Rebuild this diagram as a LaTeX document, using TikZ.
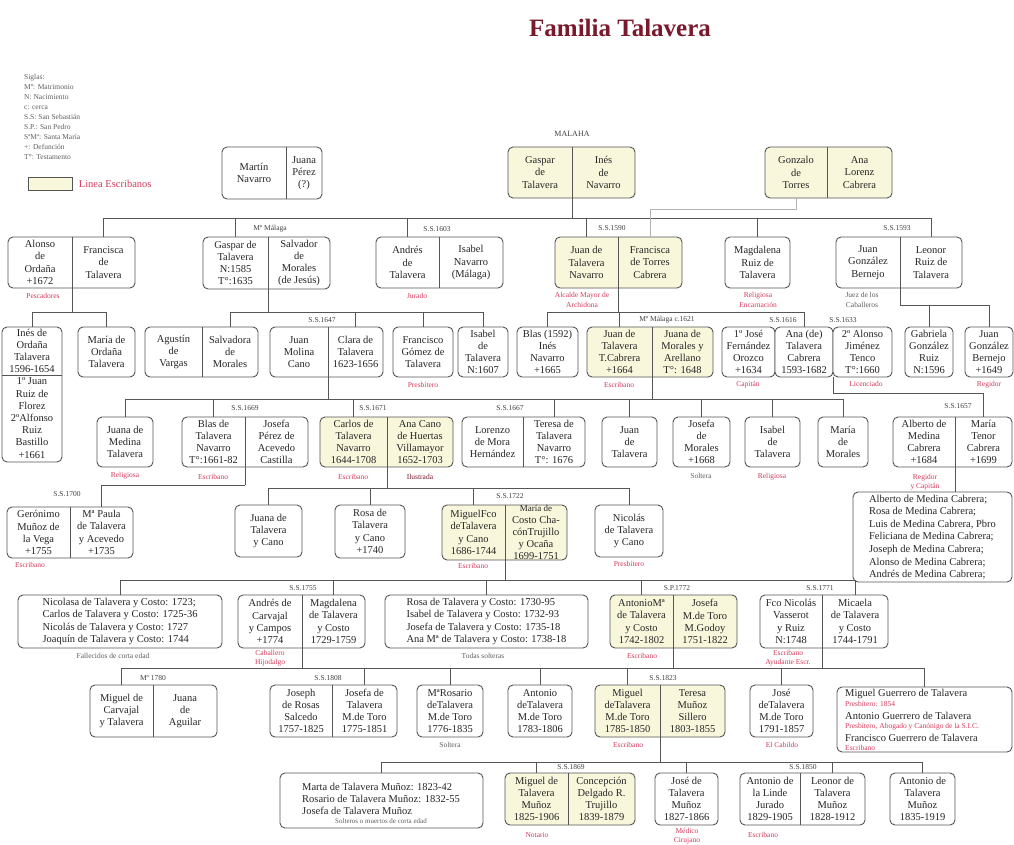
\documentclass[tikz,border=0pt]{standalone}
\usepackage{fontspec}
\setmainfont{Liberation Serif}
\usetikzlibrary{calc}
\definecolor{cream}{RGB}{248,247,220}
\definecolor{bord}{RGB}{85,85,85}
\definecolor{lab}{RGB}{212,58,92}
\definecolor{ttl}{RGB}{122,24,44}
\definecolor{gtx}{RGB}{95,95,95}
\tikzset{
 box/.style={draw=bord, line width=0.9pt, rounded corners=5pt, inner sep=0.5pt, outer sep=0pt, align=center, font=\fontsize{10.5}{12.2}\selectfont, text=black!85},
 txt/.style={inner sep=0pt, align=center, font=\fontsize{10.5}{12.2}\selectfont, text=black!85},
 conn/.style={draw=bord, line width=0.9pt},
 divl/.style={draw=bord, line width=0.9pt},
 lbl/.style={text=lab, font=\fontsize{7.5}{9.5}\selectfont, inner sep=0pt, align=center},
 glbl/.style={text=gtx, font=\fontsize{7.5}{9.5}\selectfont, inner sep=0pt, align=center},
 dlbl/.style={text=black!75, font=\fontsize{7.5}{9}\selectfont, inner sep=0pt},
 ltxt/.style={inner sep=0pt, align=left, font=\fontsize{10.5}{12.3}\selectfont, text=black!85},
}
% couple box: name, x1, xdiv, x2, y1, y2, fill, left text, right text
\newcommand\cpl[9]{%
 \pgfmathsetmacro\cpw{#4-#2}\pgfmathsetmacro\cph{#6-#5}%
 \pgfmathsetmacro\cplx{(#2+#3)/2}\pgfmathsetmacro\cprx{(#3+#4)/2}\pgfmathsetmacro\cpmy{(#5+#6)/2}%
 \node[box, fill=#7, minimum width=\cpw pt, minimum height=\cph pt, anchor=north west] (#1) at (#2,#5) {};
 \draw[divl] (#3,#5) -- (#3,#6);
 \coordinate (#1-d) at (#3,#6);
 \node[txt] (#1-L) at (\cplx,\cpmy) {#8};
 \node[txt] (#1-R) at (\cprx,\cpmy) {#9};
}
% single box: name, x1, x2, y1, y2, fill, text
\newcommand\sgl[7]{%
 \pgfmathsetmacro\cpw{#3-#2}\pgfmathsetmacro\cph{#5-#4}%
 \node[box, fill=#6, minimum width=\cpw pt, minimum height=\cph pt, anchor=north west] (#1) at (#2,#4) {#7};
}
\newcommand\dropto[3]{\draw[conn] (#1 |- 0,#2) -- (#1 |- #3.north);}
\newcommand\downto[2]{\draw[conn] (#1) -- (#1 |- 0,#2);}
\newcommand\hl[3]{\draw[conn] (#1 |- 0,#3) -- (#2 |- 0,#3);}

\begin{document}
\begin{tikzpicture}[x=1pt,y=-1pt]
\fill[white] (0,0) rectangle (1014,845);
\useasboundingbox (0,0) rectangle (1014,845);

% title
\node[font=\fontsize{25}{30}\selectfont\bfseries, text=ttl] (title) at (620,28) {Familia Talavera};

% legend
\node[anchor=north west, align=left, font=\fontsize{7.5}{10}\selectfont, text=gtx, inner sep=0pt] (legend) at (24,74)
 {Siglas:\\Mº: Matrimonio\\N: Nacimiento\\c: cerca\\S.S: San Sebastián\\S.P.: San Pedro\\SªMª: Santa María\\+: Defunción\\T°: Testamento};
\node[draw=bord, fill=cream, line width=0.7pt, minimum width=44pt, minimum height=13pt, inner sep=0pt, anchor=north west] (lgbox) at (28,177) {};
\node[anchor=west, text=lab, font=\fontsize{10.5}{12}\selectfont, inner sep=0pt] (lgtxt) at ([xshift=6pt]lgbox.east) {Linea Escribanos};

% ---------- row 0
\node[dlbl, font=\fontsize{8}{9}\selectfont] (malaha) at (572,134) {MALAHA};
\cpl{martin}{222}{286}{322}{147}{199}{white}{Martín\\Navarro}{Juana\\Pérez\\(?)}
\cpl{gasparI}{508}{572}{635}{147}{198}{cream}{Gaspar\\de\\Talavera}{Inés\\de\\Navarro}
\cpl{gonzalo}{765}{827}{892}{147}{198}{cream}{Gonzalo\\de\\Torres}{Ana\\Lorenz\\Cabrera}

% ---------- row 1
\cpl{alonso}{8}{72}{135}{237}{288}{white}{Alonso\\de\\Ordaña\\+1672}{Francisca\\de\\Talavera}
\cpl{gaspar2}{203}{268}{330}{237}{289}{white}{Gaspar de\\Talavera\\N:1585\\T°:1635}{Salvador\\de\\Morales\\(de Jesús)}
\cpl{andres}{376}{439}{503}{237}{288}{white}{Andrés\\de\\Talavera}{Isabel\\Navarro\\(Málaga)}
\cpl{juan}{555}{618}{682}{237}{288}{cream}{Juan de\\Talavera\\Navarro}{Francisca\\de Torres\\Cabrera}
\sgl{magdalena}{725}{790}{237}{288}{white}{Magdalena\\Ruiz de\\Talavera}
\cpl{juangon}{836}{900}{962}{237}{288}{white}{Juan\\González\\Bernejo}{Leonor\\Ruiz de\\Talavera}

\downto{gasparI-d}{218}
\hl{alonso-R}{juangon-R}{218}
\dropto{alonso-R}{218}{alonso}
\dropto{gaspar2-L}{218}{gaspar2}
\dropto{andres-L}{218}{andres}
\dropto{juan-L}{218}{juan}
\dropto{magdalena}{218}{magdalena}
\dropto{juangon-R}{218}{juangon}
\draw[conn, draw=black!30] (juan-R |- juan.north) -- (juan-R |- 0,209) -| (gonzalo-L |- gonzalo.south);

\node[dlbl] (d1) at (270,229) {Mº Málaga};
\node[dlbl] (d2) at (437,229) {S.S.1603};
\node[dlbl] (d3) at (612,228) {S.S.1590};
\node[dlbl] (d4) at (897,228) {S.S.1593};

\node[lbl] (l1) at (43,296) {Pescadores};
\node[lbl] (l2) at (417,296) {Jurado};
\node[lbl] (l3) at (582,300) {Alcalde Mayor de\\Archidona};
\node[lbl] (l4) at (758,300) {Religiosa\\Encarnación};
\node[glbl] (l5) at (862,300) {Juez de los\\Caballeros};

% ---------- row 2
\node[box, fill=white, minimum width=60pt, minimum height=135pt, anchor=north west] (ines) at (2,327) {};
\draw[divl] (2,375) -- (62,375);
\node[txt] (ines-a) at (32,351) {Inés de\\Ordaña\\Talavera\\1596-1654};
\node[txt] (ines-b) at (32,418) {1º Juan\\Ruiz de\\Florez\\2ºAlfonso\\Ruiz\\Bastillo\\+1661};
\sgl{maria}{78}{135}{327}{377}{white}{María de\\Ordaña\\Talavera}
\cpl{agustin}{145}{202}{258}{327}{377}{white}{Agustín\\de\\Vargas}{Salvadora\\de\\Morales}
\cpl{juanm}{270}{328}{383}{327}{377}{white}{Juan\\Molina\\Cano}{Clara de\\Talavera\\1623-1656}
\sgl{francisco}{393}{453}{327}{377}{white}{Francisco\\Gómez de\\Talavera}
\sgl{isabel}{458}{508}{327}{377}{white}{Isabel\\de\\Talavera\\N:1607}
\sgl{blasI}{517}{578}{327}{377}{white}{Blas (1592)\\Inés\\Navarro\\+1665}
\cpl{juanT}{587}{652}{713}{327}{377}{cream}{Juan de\\Talavera\\T.Cabrera\\+1664}{Juana de\\Morales y\\Arellano\\T°: 1648}
\sgl{jose1}{722}{775}{327}{377}{white}{1º José\\Fernández\\Orozco\\+1634}
\sgl{ana}{775}{833}{327}{377}{white}{Ana (de)\\Talavera\\Cabrera\\1593-1682}
\sgl{alonso2}{833}{892}{327}{377}{white}{2º Alonso\\Jiménez\\Tenco\\T°:1660}
\sgl{gabriela}{905}{953}{327}{377}{white}{Gabriela\\González\\Ruiz\\N:1596}
\sgl{juangb}{965}{1013}{327}{377}{white}{Juan\\González\\Bernejo\\+1649}

\downto{alonso-d}{312}
\hl{ines}{maria}{312}
\dropto{ines}{312}{ines}
\dropto{maria}{312}{maria}
\downto{gaspar2-d}{312}
\hl{agustin-R}{isabel}{312}
\dropto{agustin-R}{312}{agustin}
\dropto{juanm-R}{312}{juanm}
\dropto{francisco}{312}{francisco}
\dropto{isabel}{312}{isabel}
\downto{juan-d}{312}
\hl{blasI}{ana}{312}
\dropto{blasI}{312}{blasI}
\dropto{juanT-L}{312}{juanT}
\dropto{ana}{312}{ana}
\downto{juangon-d}{305}
\hl{juangon-d}{juangb}{305}
\dropto{gabriela}{305}{gabriela}
\dropto{juangb}{305}{juangb}

\node[dlbl] (d5) at (322,320) {S.S.1647};
\node[dlbl] (d6) at (667,320) {Mº Málaga c.1621};
\node[dlbl] (d7) at (783,320) {S.S.1616};
\node[dlbl] (d8) at (843,320) {S.S.1633};

\node[lbl] (l6) at (423,385) {Presbítero};
\node[lbl] (l7) at (619,385) {Escribano};
\node[lbl] (l8) at (748,385) {Capitán};
\node[lbl] (l9) at (866,384) {Licenciado};
\node[lbl] (l10) at (989,385) {Regidor};

% ---------- row 3
\sgl{juanamed}{97}{153}{417}{467}{white}{Juana de\\Medina\\Talavera}
\cpl{blas}{182}{245}{308}{417}{467}{white}{Blas de\\Talavera\\Navarro\\T°:1661-82}{Josefa\\Pérez de\\Acevedo\\Castilla}
\cpl{carlos}{320}{387}{453}{417}{467}{cream}{Carlos de\\Talavera\\Navarro\\1644-1708}{Ana Cano\\de Huertas\\Villamayor\\1652-1703}
\cpl{lorenzo}{462}{523}{585}{417}{467}{white}{Lorenzo\\de Mora\\Hernández}{Teresa de\\Talavera\\Navarro\\T°: 1676}
\sgl{juande}{602}{657}{417}{467}{white}{Juan\\de\\Talavera}
\sgl{josefa}{673}{730}{417}{467}{white}{Josefa\\de\\Morales\\+1668}
\sgl{isabelT}{745}{800}{417}{467}{white}{Isabel\\de\\Talavera}
\sgl{mariam}{818}{868}{417}{467}{white}{María\\de\\Morales}
\cpl{alberto}{893}{955}{1012}{417}{467}{white}{Alberto de\\Medina\\Cabrera\\+1684}{María\\Tenor\\Cabrera\\+1699}

\downto{juanm-d}{399}
\downto{juanT-d}{399}
\hl{juanamed}{mariam}{399}
\dropto{juanamed}{399}{juanamed}
\dropto{blas-L}{399}{blas}
\dropto{carlos-L}{399}{carlos}
\dropto{lorenzo-R}{399}{lorenzo}
\dropto{juande}{399}{juande}
\dropto{josefa}{399}{josefa}
\dropto{isabelT}{399}{isabelT}
\dropto{mariam}{399}{mariam}
\draw[conn] (ana.south east) -- (ana.south east |- 0,393) -- (alberto-R |- 0,393) -- (alberto-R |- alberto.north);

\node[dlbl] (d9) at (245,408) {S.S.1669};
\node[dlbl] (d10) at (373,408) {S.S.1671};
\node[dlbl] (d11) at (510,408) {S.S.1667};
\node[dlbl] (d12) at (958,406) {S.S.1657};

\node[lbl] (l11) at (125,476) {Religiosa};
\node[lbl] (l12) at (213,477) {Escribano};
\node[lbl] (l13) at (353,477) {Escribano};
\node[lbl, text=ttl] (l14) at (420,477) {Ilustrada};
\node[glbl] (l15) at (701,476) {Soltera};
\node[lbl] (l16) at (772,477) {Religiosa};
\node[lbl] (l17) at (925,482) {Regidor\\y Capitán};

% ---------- row 4
\cpl{geronimo}{7}{70}{133}{507}{558}{white}{Gerónimo\\Muñoz de\\la Vega\\+1755}{Mª Paula\\de Talavera\\y Acevedo\\+1735}
\sgl{juanacano}{235}{302}{505}{557}{white}{Juana de\\Talavera\\y Cano}
\sgl{rosa}{335}{405}{505}{558}{white}{Rosa de\\Talavera\\y Cano\\+1740}
\cpl{miguelF}{442}{505}{567}{505}{560}{cream}{MiguelFco\\deTalavera\\y Cano\\1686-1744}{\fontsize{9}{9.6}\selectfont María de\\Costo Cha-\\cónTrujillo\\y Ocaña\\1699-1751}
\sgl{nicolas}{595}{663}{505}{557}{white}{Nicolás\\de Talavera\\y Cano}
\node[box, fill=white, minimum width=159pt, minimum height=90pt, anchor=north west, align=left, font=\fontsize{10.5}{12.6}\selectfont] (medina) at (853,492)
 {Alberto de Medina Cabrera;\\Rosa de Medina Cabrera;\\Luis de Medina Cabrera, Pbro\\Feliciana de Medina Cabrera;\\Joseph de Medina Cabrera;\\Alonso de Medina Cabrera;\\Andrés de Medina Cabrera;};

\downto{blas-d}{485}
\hl{geronimo-R}{blas-d}{485}
\dropto{geronimo-R}{485}{geronimo}
\downto{carlos-d}{488}
\hl{juanacano}{nicolas}{488}
\dropto{juanacano}{488}{juanacano}
\dropto{rosa}{488}{rosa}
\dropto{miguelF-L}{488}{miguelF}
\dropto{nicolas}{488}{nicolas}
\draw[conn] (alberto-d) -- (alberto-d |- medina.north);

\node[dlbl] (d13) at (67,494) {S.S.1700};
\node[dlbl] (d14) at (510,496) {S.S.1722};

\node[lbl] (l18) at (30,565) {Escribano};
\node[lbl] (l19) at (473,566) {Escribano};
\node[lbl] (l20) at (629,564) {Presbítero};

% ---------- row 5
\node[box, fill=white, minimum width=204pt, minimum height=53pt, anchor=north west, align=left] (nicolasa) at (18,595)
 {Nicolasa de Talavera y Costo: 1723;\\Carlos de Talavera y Costo: 1725-36\\Nicolás de Talavera y Costo: 1727\\Joaquín de Talavera y Costo: 1744};
\cpl{andresC}{238}{302}{365}{595}{648}{white}{Andrés de\\Carvajal\\y Campos\\+1774}{Magdalena\\de Talavera\\y Costo\\1729-1759}
\node[box, fill=white, minimum width=203pt, minimum height=53pt, anchor=north west, align=left] (rosalist) at (385,595)
 {Rosa de Talavera y Costo: 1730-95\\Isabel de Talavera y Costo: 1732-93\\Josefa de Talavera y Costo: 1735-18\\Ana Mª de Talavera y Costo: 1738-18};
\cpl{antonioM}{610}{673}{737}{595}{648}{cream}{AntonioMª\\de Talavera\\y Costo\\1742-1802}{Josefa\\M.de Toro\\M.Godoy\\1751-1822}
\cpl{fco}{760}{822}{888}{595}{648}{white}{Fco Nicolás\\Vasserot\\y Ruiz\\N:1748}{Micaela\\de Talavera\\y Costo\\1744-1791}

\downto{miguelF-d}{580}
\hl{nicolasa}{fco-R}{580}
\dropto{nicolasa}{580}{nicolasa}
\dropto{andresC-R}{580}{andresC}
\dropto{rosalist}{580}{rosalist}
\dropto{antonioM-L}{580}{antonioM}
\dropto{fco-R}{580}{fco}

\node[dlbl] (d15) at (303,588) {S.S.1755};
\node[dlbl] (d16) at (677,588) {S.P.1772};
\node[dlbl] (d17) at (820,588) {S.S.1771};

\node[glbl] (l21) at (113,656) {Fallecidos de corta edad};
\node[lbl] (l22) at (270,658) {Caballero\\Hijodalgo};
\node[glbl] (l23) at (483,656) {Todas solteras};
\node[lbl] (l24) at (642,656) {Escribano};
\node[lbl] (l25) at (788,658) {Escribano\\Ayudante Escr.};

% ---------- row 6
\cpl{carvajal}{90}{153}{217}{685}{737}{white}{Miguel de\\Carvajal\\y Talavera}{Juana\\de\\Aguilar}
\cpl{joseph}{270}{332}{397}{685}{737}{white}{Joseph\\de Rosas\\Salcedo\\1757-1825}{Josefa de\\Talavera\\M.de Toro\\1775-1851}
\sgl{rosario}{417}{483}{685}{737}{white}{MªRosario\\deTalavera\\M.de Toro\\1776-1835}
\sgl{antonio}{508}{572}{685}{737}{white}{Antonio\\deTalavera\\M.de Toro\\1783-1806}
\cpl{miguelT}{595}{660}{725}{685}{737}{cream}{Miguel\\deTalavera\\M.de Toro\\1785-1850}{Teresa\\Muñoz\\Sillero\\1803-1855}
\sgl{jose}{750}{813}{685}{737}{white}{José\\deTalavera\\M.de Toro\\1791-1857}
\node[box, fill=white, minimum width=175pt, minimum height=65pt, anchor=north west] (guerrero) at (837,687) {};
\node[anchor=west, inner sep=0pt, font=\fontsize{10.5}{12}\selectfont, text=black!85] (g1) at (845,694) {Miguel Guerrero de Talavera};
\node[anchor=west, inner sep=0pt, font=\fontsize{7.5}{9}\selectfont, text=lab] (g2) at (845,704) {Presbítero: 1854};
\node[anchor=west, inner sep=0pt, font=\fontsize{10.5}{12}\selectfont, text=black!85] (g3) at (845,716) {Antonio Guerrero de Talavera};
\node[anchor=west, inner sep=0pt, font=\fontsize{7.5}{9}\selectfont, text=lab] (g4) at (845,727) {Presbítero, Abogado y Canónigo de la S.I.C.};
\node[anchor=west, inner sep=0pt, font=\fontsize{10.5}{12}\selectfont, text=black!85] (g5) at (845,738) {Francisco Guerrero de Talavera};
\node[anchor=west, inner sep=0pt, font=\fontsize{7.5}{9}\selectfont, text=lab] (g6) at (845,748) {Escribano};

\downto{andresC-d}{668}
\downto{antonioM-d}{668}
\downto{fco-d}{668}
\hl{carvajal-L}{guerrero}{668}
\dropto{carvajal-L}{668}{carvajal}
\dropto{joseph-R}{668}{joseph}
\dropto{rosario}{668}{rosario}
\dropto{antonio}{668}{antonio}
\dropto{miguelT-L}{668}{miguelT}
\dropto{jose}{668}{jose}
\dropto{guerrero}{668}{guerrero}

\node[dlbl] (d18) at (153,678) {Mº 1780};
\node[dlbl] (d19) at (328,678) {S.S.1808};
\node[dlbl] (d20) at (663,678) {S.S.1823};

\node[glbl] (l26) at (450,745) {Soltera};
\node[lbl] (l27) at (628,745) {Escribano};
\node[lbl] (l28) at (782,745) {El Cabildo};

% ---------- row 7
\node[box, fill=white, minimum width=203pt, minimum height=55pt, anchor=north west] (marta) at (280,773) {};
\node[ltxt] (marta-t) at (381,799) {Marta de Talavera Muñoz: 1823-42\\Rosario de Talavera Muñoz: 1832-55\\Josefa de Talavera Muñoz};
\node[glbl, font=\fontsize{7}{8}\selectfont] (marta-s) at (381,821) {Solteros o muertos de corta edad};
\cpl{miguelM}{505}{568}{635}{773}{825}{cream}{Miguel de\\Talavera\\Muñoz\\1825-1906}{Concepción\\Delgado R.\\Trujillo\\1839-1879}
\sgl{josem}{655}{718}{773}{825}{white}{José de\\Talavera\\Muñoz\\1827-1866}
\cpl{linde}{740}{800}{865}{773}{825}{white}{Antonio de\\la Linde\\Jurado\\1829-1905}{Leonor de\\Talavera\\Muñoz\\1828-1912}
\sgl{antoniom}{890}{955}{773}{825}{white}{Antonio de\\Talavera\\Muñoz\\1835-1919}

\downto{miguelT-d}{762}
\hl{marta}{antoniom}{762}
\dropto{marta}{762}{marta}
\dropto{miguelM-L}{762}{miguelM}
\dropto{josem}{762}{josem}
\dropto{linde-R}{762}{linde}
\dropto{antoniom}{762}{antoniom}

\node[dlbl] (d21) at (571,767) {S.S.1869};
\node[dlbl] (d22) at (803,767) {S.S.1850};

\node[lbl] (l29) at (537,835) {Notario};
\node[lbl] (l30) at (687,836) {Médico\\Cirujano};
\node[lbl] (l31) at (763,835) {Escribano};
\end{tikzpicture}
\end{document}
